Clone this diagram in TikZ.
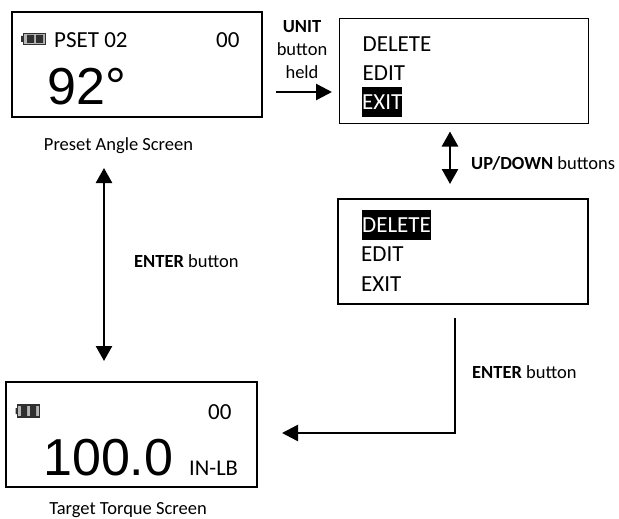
\documentclass[tikz,border=0pt]{standalone}
\usepackage{fontspec}
\setmainfont{Carlito}
\newfontfamily\arialfont{Liberation Sans}
\usepackage{xcolor}
\usetikzlibrary{arrows.meta}
\definecolor{batterygray}{HTML}{303030}
\tikzset{
    screen/.style={draw, line width=1.2pt, minimum width=#1, minimum height=105pt, inner sep=0pt},
    screen/.default=250pt,
    caption/.style={font=\fontsize{18.5}{22}\selectfont, inner sep=0pt},
    lcd/.style={font=\fontsize{23}{26}\selectfont, inner sep=0pt, anchor=base west},
    menu/.style={font=\fontsize{23}{26}\selectfont, inner sep=0pt, anchor=base west},
    selected/.style={menu, fill=black, text=white, text height=23pt, text depth=7pt},
    bigtext/.style={font=\arialfont\fontsize{52}{56}\selectfont, inner sep=0pt, anchor=base west},
    note/.style={font=\fontsize{18.5}{23}\selectfont, inner sep=0pt},
    flow/.style={line width=2.5pt, -{Triangle[length=16pt,width=16pt]}},
    flowboth/.style={line width=2.5pt, {Triangle[length=15pt,width=16pt]}-{Triangle[length=15pt,width=16pt]}},
    battery/.style={draw=batterygray, fill=batterygray!35, line width=1.6pt, minimum width=22pt, minimum height=11pt, inner sep=0pt}
}
\begin{document}
\begin{tikzpicture}[x=1pt, y=-1pt]
        \useasboundingbox (0,0) rectangle (619,519);
        % Screens
        \node[screen] (P) at (137,64.5) {};
        \node[screen=249.5pt] (M) at (464,71) {};
        \node[screen] (D) at (463,251.5) {};
        \node[screen=251pt] (T) at (131.5,434.5) {};
        % Preset angle screen
        \node[battery] (PB) at (34.5,39) {};
        \fill[batterygray] (21,36) rectangle (23,42) (27,35) rectangle (34,43) (36,35) rectangle (43,43);
        \node[lcd] (PS) at (54,48) {PSET 02};
        \node[lcd] (PN) at (216,48) {00};
        \node[bigtext] (PA) at (47,104) {92°};
        \node[caption] (PC) at (118.5,146) {Preset Angle Screen};
        % Menu screens
        \node[menu] (ME) at (362.5,52) {DELETE};
        \node[menu] (MD) at (362.5,81) {EDIT};
        \node[selected] (MX) at (362,110) {EXIT};
        \node[selected] (DE) at (362,232.5) {DELETE};
        \node[menu] (DD) at (361,261) {EDIT};
        \node[menu] (DX) at (361,291) {EXIT};
        % Target torque screen
        \node[battery, minimum height=12pt] (TB) at (28.5,411) {};
        \fill[batterygray] (15.5,408) rectangle (17.5,414) (21,406) rectangle (27,416) (30,406) rectangle (36,416);
        \node[lcd] (TN) at (208,419) {00};
        \node[bigtext] (TA) at (43,475) {100.0};
        \node[lcd, font=\fontsize{22.5}{26}\selectfont] (TU) at (189,475) {IN-LB};
        \node[caption] (TC) at (128,510) {Target Torque Screen};
        % Button labels
        \node[note, align=center] (UL) at (302,50) {\textbf{UNIT}\\button\\held};
        \node[note, anchor=west] (UD) at (471,163) {\textbf{UP/DOWN} buttons};
        \node[note, anchor=west] (EL) at (134,261) {\textbf{ENTER} button};
        \node[note, anchor=west] (ER) at (472,372) {\textbf{ENTER} button};
        % Free ends of arrows
        \coordinate (A1) at (276,92);
        \coordinate (A2) at (332,92);
        \coordinate (B1) at (450,131.5);
        \coordinate (B2) at (450,184);
        \coordinate (C1) at (104,168);
        \coordinate (C2) at (104,361);
        \coordinate (E1) at (455,318);
        \coordinate (E2) at (282,433);
        % Arrows
        \path[flow] (A1) edge (A2);
        \path[flowboth] (B1) edge (B2);
        \path[flowboth] (C1) edge (C2);
        \draw[flow] (E1) |- (E2);
    \end{tikzpicture}
\end{document}
